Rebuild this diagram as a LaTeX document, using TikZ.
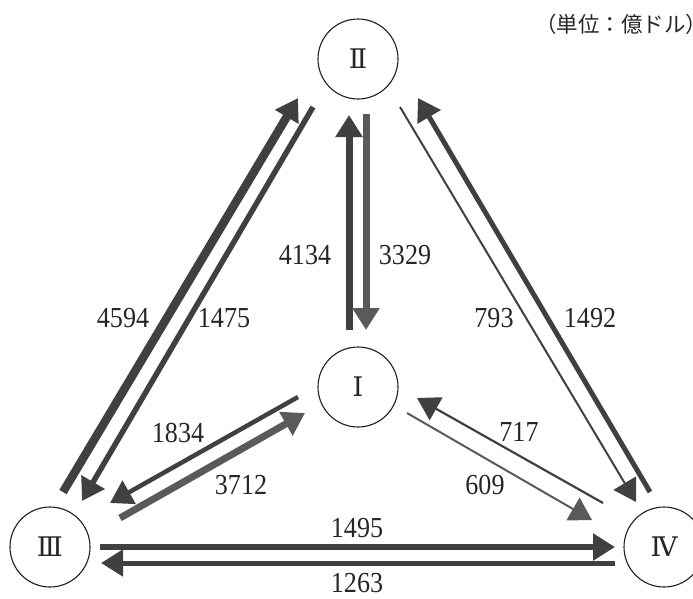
\documentclass[tikz,border=0pt]{standalone}
\usepackage{fontspec}
\setmainfont{Liberation Serif}[FakeStretch=0.9]
\newfontfamily\romfont{DejaVu Serif}
\newfontfamily\jpfont{Noto Sans CJK JP}
\usetikzlibrary{arrows.meta,calc}
\definecolor{dk}{HTML}{404040}
\definecolor{gy}{HTML}{5A5A5A}
\definecolor{txt}{HTML}{262626}
\tikzset{
  country/.style={circle, draw=black!88, line width=1.1pt, minimum size=80pt, inner sep=0pt,
    font=\romfont\fontsize{27}{27}\selectfont, text=txt},
  val/.style={font=\fontsize{29}{29}\selectfont, text=txt, inner sep=0pt},
  flowdk/.style={draw=dk, line width=#1, -{Triangle[length=22pt,width=26pt]}},
  flowgy/.style={draw=gy, line width=#1, -{Triangle[length=22pt,width=26pt]}},
}
\begin{document}
\begin{tikzpicture}[x=1pt,y=-1pt]
\useasboundingbox (0,0) rectangle (693,598);
\clip (0,0) rectangle (693,598);
% countries
\node[country] (II) at (358,59) {Ⅱ};
\node[country] (I) at (358,387) {Ⅰ};
\node[country] (III) at (50,547) {Ⅲ};
\node[country] (IV) at (664,547) {Ⅳ};
% unit
\node[anchor=west, inner sep=0pt, font=\jpfont\fontsize{21.5}{21.5}\selectfont, text=txt] (unit) at (535,24) {（単位：億ドル）};
% II <-> I
\draw[flowdk=7pt] ($(I)+(-9,-57)$) -- ($(II)+(-9,56)$);
\draw[flowgy=7pt] ($(II)+(8,55)$) -- ($(I)+(8,-57)$);
% III <-> II
\draw[flowdk=8.5pt] ($(III)+(13,-55)$) -- ($(II)+(-60,39)$);
\draw[flowdk=5.5pt] ($(II)+(-45,48)$) -- ($(III)+(32,-46)$);
% II <-> IV
\draw[flowdk=2pt] ($(II)+(42,48)$) -- ($(IV)+(-28,-45)$);
\draw[flowdk=5pt] ($(IV)+(-14,-55)$) -- ($(II)+(60,39)$);
% I <-> III
\draw[flowdk=4.5pt] ($(I)+(-60,10)$) -- ($(III)+(60,-44)$);
\draw[flowgy=7pt] ($(III)+(70,-29)$) -- ($(I)+(-53,26)$);
% I <-> IV
\draw[flowdk=2.2pt] ($(IV)+(-61,-44)$) -- ($(I)+(59,11)$);
\draw[flowgy=2pt] ($(I)+(49,26)$) -- ($(IV)+(-72,-27)$);
% III <-> IV
\draw[flowdk=6pt] ($(III)+(50,0)$) -- ($(IV)+(-49,0)$);
\draw[flowdk=5pt] ($(IV)+(-49,16)$) -- ($(III)+(51,16)$);
% values
\node[val] (v4134) at (305,255) {4134};
\node[val] (v3329) at (405,255) {3329};
\node[val] (v4594) at (123,318) {4594};
\node[val] (v1475) at (224,318) {1475};
\node[val] (v793) at (494,318) {793};
\node[val] (v1492) at (590,318) {1492};
\node[val] (v1834) at (178,433) {1834};
\node[val] (v717) at (519,432) {717};
\node[val] (v3712) at (241,485) {3712};
\node[val] (v609) at (485,485) {609};
\node[val] (v1495) at (357,528) {1495};
\node[val] (v1263) at (357,583) {1263};
\end{tikzpicture}
\end{document}
